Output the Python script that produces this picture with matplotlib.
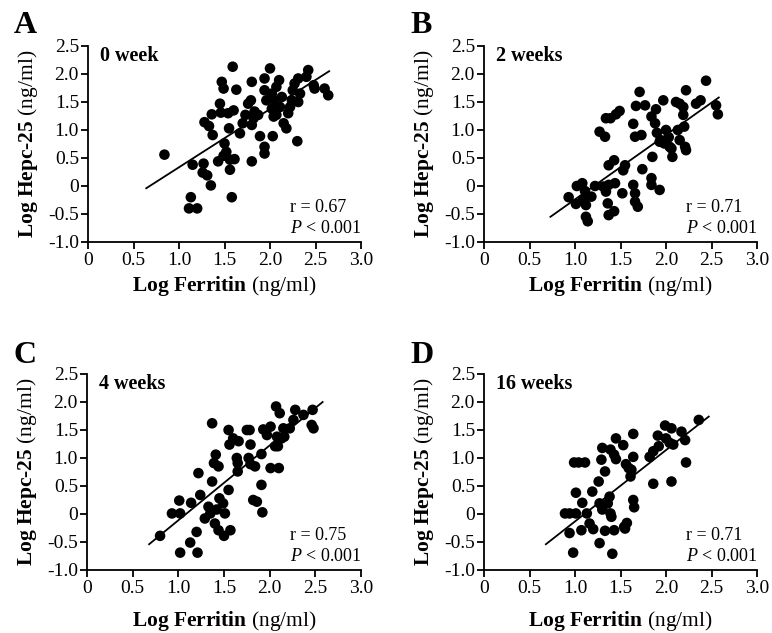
import matplotlib

matplotlib.use("Agg")
import matplotlib.pyplot as plt
import numpy as np

plt.rcParams["font.family"] = "Liberation Serif"
plt.rcParams["mathtext.fontset"] = "custom"
plt.rcParams["mathtext.rm"] = "Liberation Serif"
plt.rcParams["mathtext.bf"] = "Liberation Serif:bold"
plt.rcParams["mathtext.it"] = "Liberation Serif:italic"

# ---------------------------------------------------------------------------
# data
# ---------------------------------------------------------------------------
a_x = [0.84, 1.15, 1.13, 1.11, 1.20, 1.27, 1.26, 1.31, 1.35, 1.28, 1.33, 1.37,
       1.36, 1.46, 1.45, 1.47, 1.49, 1.43, 1.50, 1.52, 1.49, 1.56, 1.61, 1.56,
       1.58, 1.55, 1.54, 1.60, 1.63, 1.59, 1.67, 1.70, 1.73, 1.76, 1.79, 1.80,
       1.80, 1.82, 1.83, 1.80, 1.89, 1.87, 1.94, 1.94, 1.96, 1.94, 1.94, 2.00,
       2.02, 2.03, 2.04, 2.05, 2.07, 2.10, 2.11, 2.15, 2.18, 2.20, 2.24, 2.25,
       2.27, 2.30, 2.31, 2.33, 2.31, 2.40, 2.42, 2.48, 2.49, 2.60, 2.64, 2.13,
       2.22, 2.02, 2.07]
a_y = [0.56, 0.38, -0.20, -0.40, -0.40, 0.40, 0.24, 0.19, 0.01, 1.14, 1.07, 0.91,
       1.28, 1.31, 1.47, 1.86, 1.74, 0.44, 0.76, 0.61, 0.54, 0.47, 0.48, 0.29,
       -0.20, 1.03, 1.30, 1.35, 1.72, 2.13, 0.94, 1.12, 1.27, 1.47, 1.53, 1.86,
       1.09, 1.21, 1.33, 0.44, 0.89, 1.27, 1.92, 1.71, 1.53, 0.70, 0.58, 2.10,
       1.38, 0.89, 1.24, 1.53, 1.77, 1.89, 1.41, 1.12, 1.03, 1.30, 1.53, 1.71,
       1.83, 0.80, 1.92, 1.65, 1.50, 1.95, 2.07, 1.80, 1.74, 1.74, 1.62, 1.59,
       1.41, 1.65, 1.27]
a_fit = [(0.64, -0.04), (2.65, 2.05)]

b_x = [0.93, 1.01, 1.02, 1.08, 1.11, 1.09, 1.12, 1.12, 1.14, 1.18, 1.22, 1.27,
       1.33, 1.31, 1.34, 1.37, 1.44, 1.36, 1.37, 1.43, 1.37, 1.43, 1.34, 1.39,
       1.45, 1.49, 1.55, 1.53, 1.52, 1.64, 1.66, 1.66, 1.69, 1.64, 1.66, 1.73,
       1.74, 1.67, 1.71, 1.77, 1.84, 1.89, 1.85, 1.84, 1.84, 1.93, 1.88, 1.90,
       1.93, 1.97, 2.00, 2.03, 2.04, 2.07, 2.06, 2.11, 2.13, 2.15, 2.15, 2.19,
       2.20, 2.21, 2.22, 2.22, 2.19, 2.33, 2.38, 2.44, 2.55, 2.57, 1.94, 1.98]
b_y = [-0.20, -0.32, 0.00, 0.05, -0.09, -0.24, -0.34, -0.55, -0.63, -0.19, 0.00, 0.97,
       0.88, -0.01, -0.10, 0.02, 0.05, -0.31, -0.52, -0.45, 0.37, 0.46, 1.21, 1.21,
       1.28, 1.34, 0.37, 0.28, -0.13, 0.02, -0.13, -0.28, -0.37, 1.11, 0.88, 0.91,
       0.30, 1.43, 1.68, 1.44, 1.24, 1.37, 0.52, 0.14, 0.02, -0.07, 1.12, 0.95,
       0.79, 1.53, 1.00, 0.87, 0.70, 0.52, 0.67, 1.50, 1.00, 0.82, 1.47, 1.27,
       1.06, 0.70, 1.71, 0.64, 1.41, 1.47, 1.53, 1.88, 1.44, 1.28, 0.82, 0.76]
b_fit = [(0.73, -0.55), (2.58, 1.58)]

c_x = [0.80, 1.01, 0.93, 1.02, 1.02, 1.13, 1.14, 1.20, 1.21, 1.22, 1.24, 1.29,
       1.33, 1.35, 1.37, 1.37, 1.39, 1.41, 1.44, 1.40, 1.44, 1.42, 1.45, 1.51,
       1.50, 1.57, 1.55, 1.49, 1.56, 1.55, 1.60, 1.66, 1.64, 1.65, 1.65, 1.75,
       1.78, 1.77, 1.79, 1.79, 1.84, 1.82, 1.86, 1.91, 1.92, 1.91, 1.93, 1.97,
       2.01, 2.01, 2.10, 2.06, 2.09, 2.08, 2.13, 2.15, 2.07, 2.11, 2.22, 2.26,
       2.28, 2.37, 2.47, 2.46, 2.48, 2.16]
c_y = [-0.39, 0.24, 0.01, 0.01, -0.69, -0.51, 0.20, -0.32, -0.69, 0.73, 0.34, -0.08,
       0.13, 0.01, 0.58, 1.62, 0.91, 1.06, 0.85, -0.17, -0.29, 0.08, 0.28, 0.01,
       -0.39, -0.29, 0.43, 0.19, 1.24, 1.50, 1.35, 1.30, 1.00, 0.91, 0.76, 1.50,
       1.50, 1.00, 0.89, 1.24, 0.85, 0.25, 0.22, 0.52, 0.03, 1.07, 1.51, 1.41,
       1.56, 0.82, 0.82, 1.21, 1.21, 1.38, 1.35, 1.53, 1.92, 1.80, 1.53, 1.68,
       1.86, 1.77, 1.86, 1.59, 1.53, 1.38]
c_fit = [(0.68, -0.54), (2.58, 2.00)]

d_x = [0.89, 0.94, 1.01, 0.94, 0.98, 1.01, 0.99, 1.04, 1.11, 1.08, 1.07, 1.13,
       1.16, 1.19, 1.20, 1.26, 1.27, 1.29, 1.30, 1.30, 1.27, 1.33, 1.33, 1.36,
       1.38, 1.39, 1.39, 1.40, 1.43, 1.45, 1.43, 1.41, 1.45, 1.53, 1.56, 1.59,
       1.54, 1.57, 1.64, 1.64, 1.62, 1.61, 1.64, 1.65, 1.86, 1.82, 1.86, 1.91,
       1.92, 1.99, 2.00, 2.06, 2.06, 2.08, 2.04, 2.17, 2.21, 2.22, 2.36, 1.55]
d_y = [0.01, 0.01, 0.01, -0.34, -0.69, 0.38, 0.92, 0.92, 0.92, 0.20, -0.29, 0.01,
       -0.17, 0.40, -0.27, 0.58, -0.52, 0.97, 1.18, 0.08, 0.19, -0.30, 0.76, 0.19,
       0.31, 1.15, 0.01, -0.05, 1.06, 0.98, -0.29, -0.71, 1.35, 1.23, 0.89, 0.82,
       -0.23, -0.16, 1.43, 1.02, 0.79, 0.67, 0.25, 0.12, 0.54, 1.02, 1.12, 1.40,
       1.21, 1.58, 1.35, 1.53, 0.58, 1.24, 1.27, 1.47, 1.32, 0.92, 1.68, -0.26]
d_fit = [(0.68, -0.54), (2.47, 1.74)]

panels = [
    ("A", "0 week", "0.67", a_x, a_y, a_fit),
    ("B", "2 weeks", "0.71", b_x, b_y, b_fit),
    ("C", "4 weeks", "0.75", c_x, c_y, c_fit),
    ("D", "16 weeks", "0.71", d_x, d_y, d_fit),
]

x_ticks = [0, 0.5, 1.0, 1.5, 2.0, 2.5, 3.0]
x_tick_labels = ["0", "0.5", "1.0", "1.5", "2.0", "2.5", "3.0"]
y_ticks = [-1.0, -0.5, 0, 0.5, 1.0, 1.5, 2.0, 2.5]
y_tick_labels = ["-1.0", "-0.5", "0", "0.5", "1.0", "1.5", "2.0", "2.5"]

# axes rectangles in figure fractions (left, bottom, width, height)
W, H = 772, 633
rects = [
    (88 / W, 1 - 242 / H, 273 / W, 196 / H),
    (484 / W, 1 - 242 / H, 273 / W, 196 / H),
    (87 / W, 1 - 570 / H, 274 / W, 196 / H),
    (484 / W, 1 - 570 / H, 273 / W, 196 / H),
]
xlabel_pads = [3.0, 3.0, 8.0, 8.0]
letter_baselines = [33, 33, 363, 363]

fig = plt.figure(figsize=(W / 100, H / 100), dpi=100)

for i, (letter, label, r_val, xs, ys, fit) in enumerate(panels):
    ax = fig.add_axes(rects[i])
    ax.scatter(xs, ys, s=58, color="black", edgecolors="none", zorder=3,
               clip_on=False)
    (x0, y0), (x1, y1) = fit
    ax.plot([x0, x1], [y0, y1], color="black", lw=1.3, zorder=2)

    ax.set_xlim(0, 3.0)
    ax.set_ylim(-1.0, 2.5)
    ax.set_xticks(x_ticks)
    ax.set_xticklabels(x_tick_labels)
    ax.set_yticks(y_ticks)
    ax.set_yticklabels(y_tick_labels)
    ax.spines["top"].set_visible(False)
    ax.spines["right"].set_visible(False)
    for side in ("left", "bottom"):
        ax.spines[side].set_linewidth(1.3)
    ax.tick_params(direction="out", length=5, width=1.3, labelsize=14)
    ax.tick_params(axis="y", pad=1.5)
    ax.tick_params(axis="x", pad=2.5)

    ax.set_xlabel(r"$\mathbf{Log\ Ferritin}$ (ng/ml)", fontsize=15.5,
                  labelpad=xlabel_pads[i])
    ax.set_ylabel(r"$\mathbf{Log\ Hepc}$-$\mathbf{25}$ (ng/ml)", fontsize=15.5,
                  labelpad=6)

    ax.text(0.13, 2.33, label, fontsize=14.5, fontweight="bold", va="center",
            ha="left")
    ax.text(2.22, -0.38, f"r = {r_val}", fontsize=13, va="center", ha="left")
    ax.text(2.22, -0.76, r"$\mathit{P}$ < 0.001", fontsize=13, va="center",
            ha="left")

    pos = rects[i]
    fig.text(pos[0] - 74 / W, 1 - letter_baselines[i] / H, letter,
             fontsize=23, fontweight="bold", ha="left", va="baseline")

fig.savefig("out.png", dpi=100)
